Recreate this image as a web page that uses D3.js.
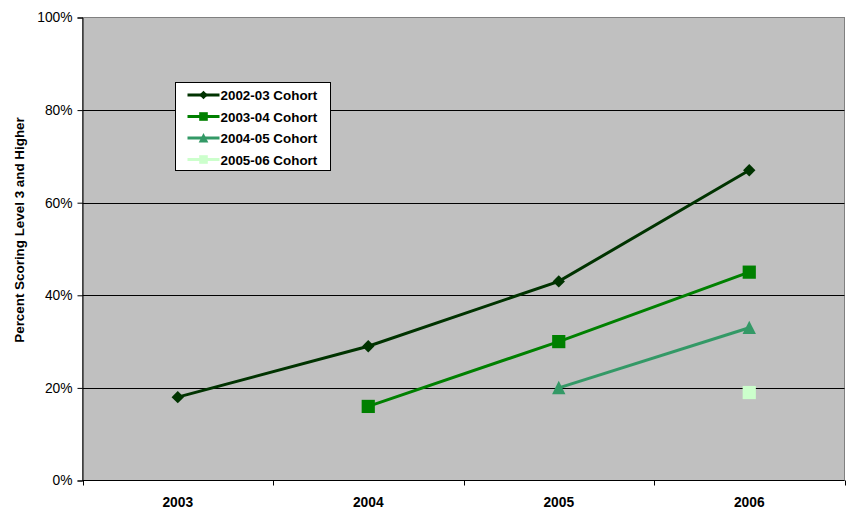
<!DOCTYPE html>
<html>
<head>
<meta charset="utf-8">
<script src="https://cdn.jsdelivr.net/npm/d3@7"></script>
<style>
  html, body { margin: 0; padding: 0; background: #fff; }
  svg { display: block; font-family: Arial, "Liberation Sans", sans-serif; }
</style>
</head>
<body>
<svg id="chart" width="853" height="510"></svg>
<script>
// Categories (school years) and cohort results, percent scoring level 3+
const years = ["2003", "2004", "2005", "2006"];
const cohortNames = ["2002-03 Cohort", "2003-04 Cohort", "2004-05 Cohort", "2005-06 Cohort"];
const cohort0203 = [18, 29, 43, 67];
const cohort0304 = [null, 16, 30, 45];
const cohort0405 = [null, null, 20, 33];
const cohort0506 = [null, null, null, 19];
const yTicks = [0, 20, 40, 60, 80, 100];

const series = [
  { name: cohortNames[0], values: cohort0203, color: "#003300", symbol: "diamond" },
  { name: cohortNames[1], values: cohort0304, color: "#008000", symbol: "square" },
  { name: cohortNames[2], values: cohort0405, color: "#339966", symbol: "triangle" },
  { name: cohortNames[3], values: cohort0506, color: "#CCFFCC", symbol: "square" }
];

const svg = d3.select("#chart");
const margin = { left: 82.5, right: 8.5, top: 17.5, bottom: 29.5 };
const W = 853, H = 510;
const x0 = margin.left, x1 = W - margin.right;
const y0 = margin.top, y1 = H - margin.bottom;
const FONT = 13.4;

const x = d3.scaleBand().domain(years).range([x0, x1]);
const y = d3.scaleLinear().domain([0, 100]).range([y1, y0]);

// Plot area background
svg.append("rect")
  .attr("x", x0).attr("y", y0).attr("width", x1 - x0).attr("height", y1 - y0)
  .attr("fill", "#C0C0C0").attr("stroke", "#808080").attr("stroke-width", 1);

// Horizontal gridlines
svg.append("g").selectAll("line")
  .data(yTicks.filter(t => t > 0 && t < 100))
  .join("line")
  .attr("x1", x0).attr("x2", x1)
  .attr("y1", d => Math.round(y(d)) + 0.5).attr("y2", d => Math.round(y(d)) + 0.5)
  .attr("stroke", "#000").attr("stroke-width", 1);

// Y axis
const yAxis = d3.axisLeft(y).tickValues(yTicks).tickFormat(d => d + "%").tickSize(5).tickPadding(5);
const gy = svg.append("g").attr("transform", `translate(${x0},0)`).call(yAxis);
gy.select(".domain").attr("stroke", "#000");
gy.selectAll(".tick line").attr("stroke", "#000");
gy.selectAll(".tick text").attr("font-size", 13.8).attr("fill", "#000")
  .attr("font-family", "Arial, 'Liberation Sans', sans-serif");

// X axis: tick marks at category boundaries, labels centred in the bands
const gx = svg.append("g").attr("transform", `translate(0,${y1})`);
gx.append("line").attr("x1", x0).attr("x2", x1).attr("y1", 0).attr("y2", 0).attr("stroke", "#000");
const bounds = years.map(d => x(d)).concat([x1]);
gx.selectAll("line.tk").data(bounds).join("line").attr("class", "tk")
  .attr("x1", d => Math.round(d) + 0.5).attr("x2", d => Math.round(d) + 0.5)
  .attr("y1", 0).attr("y2", 5).attr("stroke", "#000");
gx.selectAll("text").data(years).join("text")
  .attr("x", d => x(d) + x.bandwidth() / 2).attr("y", 26.5)
  .attr("text-anchor", "middle").attr("font-size", 13.8).attr("font-weight", "bold")
  .text(d => d);

// Y axis title
svg.append("text")
  .attr("transform", `translate(24,230) rotate(-90)`)
  .attr("text-anchor", "middle").attr("font-size", FONT).attr("font-weight", "bold")
  .text("Percent Scoring Level 3 and Higher");

const cx = d => x(d) + x.bandwidth() / 2;

function drawSymbol(g, type, color, px, py, size) {
  const r = size;
  if (type === "diamond") {
    g.append("path").attr("d", `M${px},${py - r}L${px + r},${py}L${px},${py + r}L${px - r},${py}Z`).attr("fill", color);
  } else if (type === "square") {
    g.append("rect").attr("x", px - r).attr("y", py - r).attr("width", 2 * r).attr("height", 2 * r).attr("fill", color);
  } else if (type === "triangle") {
    g.append("path").attr("d", `M${px},${py - r * 1.05}L${px + r},${py + r * 0.95}L${px - r},${py + r * 0.95}Z`).attr("fill", color);
  }
}

const symSize = { diamond: 6.2, square: 6.6, triangle: 6.7 };

// Series lines and markers
series.forEach(s => {
  const pts = years.map((yr, i) => ({ yr, v: s.values[i] })).filter(p => p.v != null);
  const line = d3.line().x(p => cx(p.yr)).y(p => y(p.v));
  const g = svg.append("g");
  if (pts.length > 1) {
    g.append("path").datum(pts).attr("d", line)
      .attr("fill", "none").attr("stroke", s.color).attr("stroke-width", 3);
  }
  pts.forEach(p => drawSymbol(g, s.symbol, s.color, cx(p.yr), y(p.v), symSize[s.symbol]));
});

// Legend
const lg = svg.append("g").attr("transform", "translate(175.5,82.5)");
lg.append("rect").attr("width", 155).attr("height", 88)
  .attr("fill", "#fff").attr("stroke", "#000").attr("stroke-width", 1);
series.forEach((s, i) => {
  const ly = 12.5 + i * 21.5;
  lg.append("line").attr("x1", 12).attr("x2", 44).attr("y1", ly).attr("y2", ly)
    .attr("stroke", s.color).attr("stroke-width", 3);
  drawSymbol(lg, s.symbol, s.color, 28, ly, s.symbol === "triangle" ? 4.8 : 4.3);
  lg.append("text").attr("x", 45).attr("y", ly + 5)
    .attr("font-size", FONT).attr("font-weight", "bold").text(s.name);
});
</script>
</body>
</html>
